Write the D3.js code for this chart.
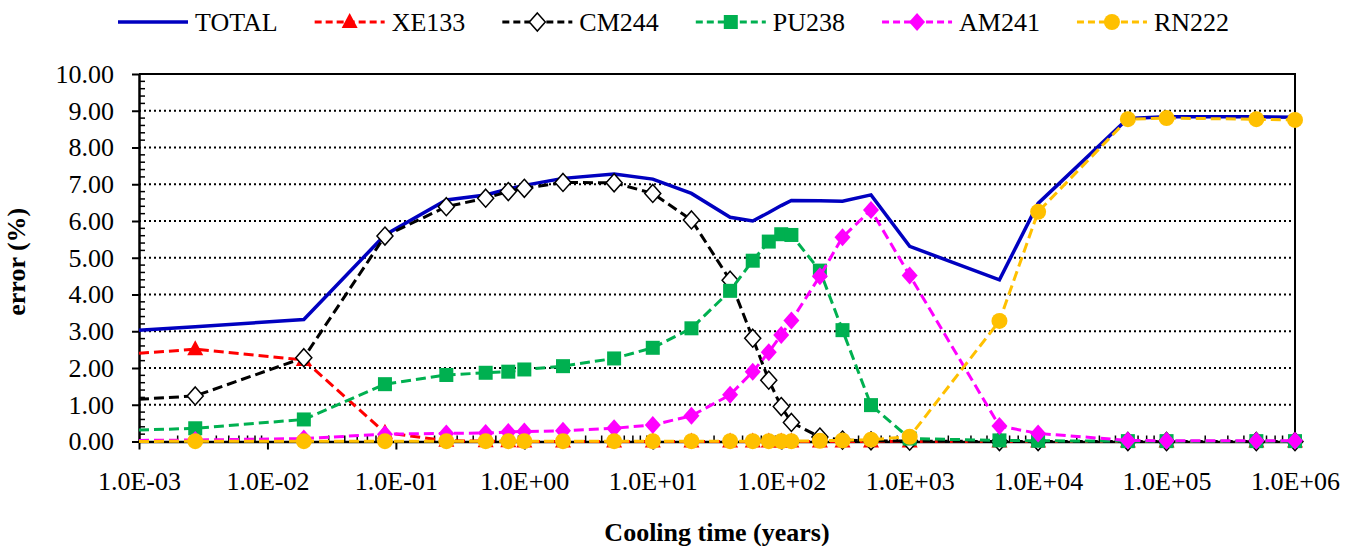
<!DOCTYPE html>
<html>
<head>
<meta charset="utf-8">
<script src="https://cdn.jsdelivr.net/npm/d3@7"></script>
<style>
    body { margin: 0; background: #fff; }
    svg text { font-family: "Liberation Serif", "Times New Roman", serif !important; fill: #000; }
    .grid line { stroke: #000; stroke-width: 2; stroke-dasharray: 2,3; }
    .axis path, .axis line { stroke: #000; }
</style>
</head>
<body>
<script>
//cooling times (years) shared by every series
var times = [0.001, 0.00274, 0.0192, 0.0822, 0.247, 0.5, 0.75, 1, 2, 5, 10, 20, 40, 60, 80, 100, 120,
    200, 300, 500, 1000, 5000, 10000, 50000, 100000, 500000, 1000000];

//error (%) per nuclide
var total = [3.03, 3.12, 3.32, 5.62, 6.57, 6.71, 6.87, 6.97, 7.16, 7.28, 7.14, 6.75, 6.10, 6.00, 6.23, 6.42, 6.56,
    6.55, 6.54, 6.71, 5.31, 4.40, 6.48, 8.79, 8.84, 8.84, 8.82];
var xe133 = [2.40, 2.51, 2.22, 0.24, 0.02, 0.01, 0.01, 0, 0, 0, 0, 0, 0, 0, 0, 0, 0,
    0, 0, 0, 0, 0, 0, 0, 0, 0, 0];
var cm244 = [1.15, 1.24, 2.28, 5.59, 6.39, 6.62, 6.80, 6.89, 7.05, 7.04, 6.75, 6.03, 4.39, 2.81, 1.67, 0.95, 0.52,
    0.12, 0.04, 0.02, 0.01, 0, 0, 0, 0, 0, 0];
var pu238 = [0.31, 0.36, 0.60, 1.56, 1.81, 1.87, 1.90, 1.96, 2.05, 2.26, 2.55, 3.08, 4.10, 4.92, 5.44, 5.64, 5.62,
    4.65, 3.03, 0.99, 0.08, 0.03, 0.02, 0.01, 0.01, 0.01, 0.01];
var am241 = [0.03, 0.04, 0.08, 0.20, 0.22, 0.23, 0.26, 0.27, 0.29, 0.36, 0.45, 0.70, 1.27, 1.90, 2.43, 2.90, 3.29,
    4.50, 5.56, 6.30, 4.52, 0.42, 0.22, 0.03, 0.02, 0.02, 0.02];
var rn222 = [0, 0.01, 0.01, 0.01, 0.01, 0.01, 0.01, 0.01, 0.01, 0.01, 0.01, 0.01, 0.01, 0.01, 0.01, 0.01, 0.01,
    0.02, 0.03, 0.05, 0.13, 3.28, 6.25, 8.77, 8.80, 8.77, 8.75];

//axis ticks
var xTicks = [1e-3, 1e-2, 1e-1, 1e0, 1e1, 1e2, 1e3, 1e4, 1e5, 1e6];
var yTicks = [0, 1, 2, 3, 4, 5, 6, 7, 8, 9, 10];

//series definitions (name, values, colour, marker, dashed)
var series = [
    {name: "TOTAL", values: total, color: "#0000c0", marker: null, dash: null},
    {name: "XE133", values: xe133, color: "#ff0000", marker: "triangle", dash: "10,5"},
    {name: "CM244", values: cm244, color: "#000000", marker: "open", dash: "10,5"},
    {name: "PU238", values: pu238, color: "#00b050", marker: "square", dash: "10,5"},
    {name: "AM241", values: am241, color: "#ff00ff", marker: "diamond", dash: "10,5"},
    {name: "RN222", values: rn222, color: "#ffc000", marker: "circle", dash: "10,5"}
];

var serif = "'Liberation Serif', 'Times New Roman', serif";

window.onload = drawChart();

function drawChart(){
    var width = 1345,
        height = 546,
        left = 139, right = 1295,
        top = 74, bottom = 441.5;

    var svg = d3.select("body")
        .append("svg")
        .attr("width", width)
        .attr("height", height)
        .attr("font-family", serif);

    var x = d3.scaleLog().domain([1e-3, 1e6]).range([left, right]);
    var y = d3.scaleLinear().domain([0, 10]).range([bottom, top]);

    //dotted horizontal gridlines
    svg.append("g")
        .attr("class", "grid")
        .selectAll("line")
        .data(yTicks.slice(1, -1))
        .enter()
        .append("line")
        .attr("x1", left).attr("x2", right)
        .attr("y1", function(d){ return y(d); })
        .attr("y2", function(d){ return y(d); });

    //top and right border of plot area
    svg.append("path")
        .attr("d", "M" + left + "," + top + "H" + right + "V" + bottom)
        .attr("fill", "none")
        .attr("stroke", "#000")
        .attr("stroke-width", 2);

    //y axis, major ticks outside
    var yAxis = svg.append("g")
        .attr("class", "axis")
        .attr("transform", "translate(" + left + ",0)")
        .call(d3.axisLeft(y).tickValues(yTicks).tickFormat(d3.format(".2f")).tickSize(7).tickSizeOuter(0));
    yAxis.attr("font-family", serif).attr("font-size", 26);
    yAxis.selectAll("text")
        .attr("x", -25)
        .attr("font-family", serif)
        .style("font-size", "26px");
    yAxis.select(".domain").attr("stroke-width", 2.5);
    yAxis.selectAll(".tick line").attr("stroke-width", 2);

    //y minor ticks inside
    var yMinor = d3.range(0, 10.01, 0.2).filter(function(d){ return Math.abs(d - Math.round(d)) > 0.01; });
    svg.append("g")
        .selectAll("line")
        .data(yMinor)
        .enter()
        .append("line")
        .attr("x1", left).attr("x2", left + 6)
        .attr("y1", function(d){ return y(d); })
        .attr("y2", function(d){ return y(d); })
        .attr("stroke", "#000")
        .attr("stroke-width", 1.5);

    //x axis, major ticks outside
    var fmtE = function(d){
        var e = Math.round(Math.log10(d));
        return "1.0E" + (e < 0 ? "-" : "+") + d3.format("02d")(Math.abs(e));
    };
    var xAxis = svg.append("g")
        .attr("class", "axis")
        .attr("transform", "translate(0," + bottom + ")")
        .call(d3.axisBottom(x).tickValues(xTicks).tickFormat(fmtE).tickSize(8).tickSizeOuter(0));
    xAxis.attr("font-family", serif).attr("font-size", 26);
    xAxis.selectAll("text")
        .attr("y", 30)
        .attr("font-family", serif)
        .style("font-size", "26px");
    xAxis.select(".domain").attr("stroke-width", 2.5);
    xAxis.selectAll(".tick line").attr("stroke-width", 2);

    //x minor ticks inside
    var xMinor = [];
    xTicks.slice(0, -1).forEach(function(t){
        d3.range(2, 10).forEach(function(k){ xMinor.push(t * k); });
    });
    svg.append("g")
        .selectAll("line")
        .data(xMinor)
        .enter()
        .append("line")
        .attr("x1", function(d){ return x(d); })
        .attr("x2", function(d){ return x(d); })
        .attr("y1", bottom).attr("y2", bottom - 6)
        .attr("stroke", "#000")
        .attr("stroke-width", 1.5);

    //axis titles
    svg.append("text")
        .attr("x", (left + right) / 2)
        .attr("y", 541)
        .attr("text-anchor", "middle")
        .style("font-size", "26px")
        .style("font-weight", "bold")
        .text("Cooling time (years)");
    svg.append("text")
        .attr("transform", "translate(25," + ((top + bottom) / 2 + 4) + ") rotate(-90)")
        .attr("text-anchor", "middle")
        .style("font-size", "26px")
        .style("font-weight", "bold")
        .text("error (%)");

    var line = d3.line()
        .x(function(d, i){ return x(times[i]); })
        .y(function(d){ return y(d); });

    //marker drawing helper
    function drawMarker(g, type, color, cx, cy){
        if (type === "circle"){
            g.append("circle").attr("cx", cx).attr("cy", cy).attr("r", 8).attr("fill", color);
        } else if (type === "square"){
            g.append("rect").attr("x", cx - 7).attr("y", cy - 7).attr("width", 14).attr("height", 14).attr("fill", color);
        } else if (type === "diamond"){
            g.append("path").attr("d", "M" + cx + "," + (cy - 9) + "L" + (cx + 8) + "," + cy + "L" + cx + "," + (cy + 9) + "L" + (cx - 8) + "," + cy + "Z")
                .attr("fill", color);
        } else if (type === "open"){
            g.append("path").attr("d", "M" + cx + "," + (cy - 9) + "L" + (cx + 8) + "," + cy + "L" + cx + "," + (cy + 9) + "L" + (cx - 8) + "," + cy + "Z")
                .attr("fill", "#fff").attr("stroke", color).attr("stroke-width", 1.5);
        } else if (type === "triangle"){
            g.append("path").attr("d", "M" + cx + "," + (cy - 9) + "L" + (cx + 8) + "," + (cy + 6) + "L" + (cx - 8) + "," + (cy + 6) + "Z")
                .attr("fill", color);
        }
    }

    //series lines and markers
    series.forEach(function(s){
        var g = svg.append("g");
        g.append("path")
            .datum(s.values)
            .attr("d", line)
            .attr("fill", "none")
            .attr("stroke", s.color)
            .attr("stroke-width", s.dash ? 3 : 3.5)
            .attr("stroke-dasharray", s.dash);
        if (s.marker){
            s.values.forEach(function(v, i){
                //the first time sits on the axis edge, no marker shown there
                if (times[i] > x.domain()[0]) drawMarker(g, s.marker, s.color, x(times[i]), y(v));
            });
        }
    });

    //legend along the top
    var lx = 118, ly = 22;
    series.forEach(function(s){
        var g = svg.append("g");
        g.append("line")
            .attr("x1", lx).attr("x2", lx + 70)
            .attr("y1", ly).attr("y2", ly)
            .attr("stroke", s.color)
            .attr("stroke-width", s.dash ? 3 : 3.5)
            .attr("stroke-dasharray", s.dash ? "7,4" : null);
        if (s.marker) drawMarker(g, s.marker, s.color, lx + 35, ly);
        var t = g.append("text")
            .attr("x", lx + 77)
            .attr("y", ly + 9)
            .style("font-size", "26px")
            .text(s.name);
        lx += 77 + t.node().getComputedTextLength() + 37;
    });
}
</script>
</body>
</html>
